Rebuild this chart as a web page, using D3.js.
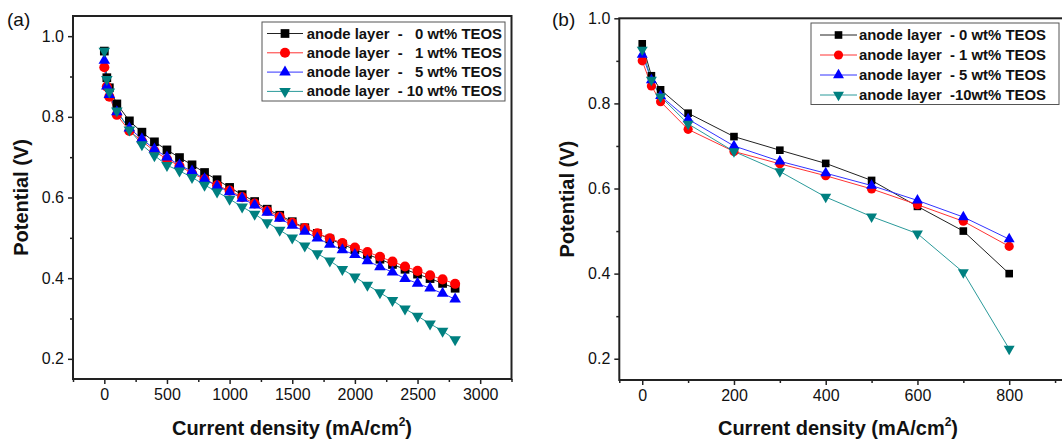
<!DOCTYPE html>
<html>
<head>
<meta charset="utf-8">
<script src="https://cdn.jsdelivr.net/npm/d3@7"></script>
<style>
  html, body { margin: 0; padding: 0; background: #fff; }
  svg { display: block; font-family: "Liberation Sans", Arial, sans-serif; }
  .leg text { font-weight: bold; font-size: 14.9px; white-space: pre; fill: #111; }
</style>
</head>
<body>
<svg id="chart" width="1062" height="446"></svg>
<script>
// ---- Data ----
// panel (a)
const currentA = [0, 20, 40, 100, 200, 300, 400, 500, 600, 700, 800, 900, 1000, 1100, 1200, 1300,
  1400, 1500, 1600, 1700, 1800, 1900, 2000, 2100, 2200, 2300, 2400, 2500, 2600, 2700, 2800];
const potA0 = [0.963, 0.897, 0.872, 0.832, 0.79, 0.762, 0.738, 0.718, 0.699, 0.681, 0.662, 0.644, 0.625, 0.607, 0.59, 0.571,
  0.556, 0.54, 0.525, 0.511, 0.497, 0.484, 0.471, 0.459, 0.447, 0.434, 0.422, 0.41, 0.399, 0.387, 0.375];
const potA1 = [0.923, 0.875, 0.85, 0.805, 0.765, 0.74, 0.715, 0.695, 0.678, 0.66, 0.645, 0.63, 0.617, 0.601, 0.585, 0.567,
  0.552, 0.537, 0.524, 0.511, 0.499, 0.487, 0.476, 0.465, 0.453, 0.441, 0.429, 0.418, 0.407, 0.397, 0.386];
const potA5 = [0.94, 0.876, 0.855, 0.812, 0.772, 0.745, 0.72, 0.70, 0.68, 0.665, 0.646, 0.628, 0.614, 0.598, 0.581, 0.563,
  0.548, 0.531, 0.516, 0.499, 0.484, 0.47, 0.458, 0.443, 0.428, 0.415, 0.399, 0.387, 0.375, 0.362, 0.348];
const potA10 = [0.963, 0.893, 0.862, 0.815, 0.768, 0.731, 0.704, 0.68, 0.666, 0.65, 0.631, 0.614, 0.596, 0.577, 0.559, 0.538,
  0.519, 0.5, 0.48, 0.461, 0.443, 0.422, 0.403, 0.383, 0.364, 0.345, 0.324, 0.306, 0.287, 0.269, 0.248];

// panel (b)
const currentB = [0, 20, 40, 100, 200, 300, 400, 500, 600, 700, 800];
const potB0 = [0.94, 0.865, 0.832, 0.777, 0.722, 0.69, 0.659, 0.619, 0.558, 0.50, 0.40];
const potB1 = [0.90, 0.841, 0.804, 0.739, 0.687, 0.658, 0.63, 0.599, 0.562, 0.523, 0.464];
const potB5 = [0.915, 0.855, 0.818, 0.763, 0.70, 0.664, 0.636, 0.607, 0.572, 0.533, 0.481];
const potB10 = [0.926, 0.855, 0.816, 0.752, 0.687, 0.64, 0.58, 0.534, 0.494, 0.403, 0.223];

const legendA = ["anode layer  -   0 wt% TEOS", "anode layer  -   1 wt% TEOS", "anode layer  -   5 wt% TEOS", "anode layer  - 10 wt% TEOS"];
const legendB = ["anode layer  - 0 wt% TEOS", "anode layer  - 1 wt% TEOS", "anode layer  - 5 wt% TEOS", "anode layer  -10wt% TEOS"];

const xTicksA = [0, 500, 1000, 1500, 2000, 2500, 3000];
const xMinorA = [-250, 250, 750, 1250, 1750, 2250, 2750, 3250];
const xTicksB = [0, 200, 400, 600, 800];
const xMinorB = [-50, 100, 300, 500, 700, 900];
const yTicks = [0.2, 0.4, 0.6, 0.8, 1.0];
const yMinor = [0.3, 0.5, 0.7, 0.9];

// ---- Styles ----
const colors = ["#000000", "#ff0000", "#0000ff", "#008080"];
const lineColors = ["#222222", "#ff3333", "#3333ff", "#2a9a9a"];
const symbols = [d3.symbolSquare, d3.symbolCircle, d3.symbolTriangle, d3.symbolTriangle];
const rotate = [0, 0, 0, 180];

const svg = d3.select("#chart");

// ---- Panel builder ----
function drawPanel(cfg) {
  const x = d3.scaleLinear().domain(cfg.xDomain).range(cfg.xRange);
  const y = d3.scaleLinear().domain(cfg.yDomain).range(cfg.yRange);
  const g = svg.append("g");

  const left = cfg.xRange[0], right = cfg.xRange[1];
  const top = cfg.yRange[1], bottom = cfg.yRange[0];

  // series: lines first, then markers on top
  cfg.series.forEach((vals, i) => {
    const pts = cfg.xs.map((v, j) => [v, vals[j]]);
    g.append("path")
      .datum(pts)
      .attr("fill", "none")
      .attr("stroke", lineColors[i])
      .attr("stroke-width", 1)
      .attr("d", d3.line().x(d => x(d[0])).y(d => y(d[1])));
  });
  cfg.series.forEach((vals, i) => {
    const pts = cfg.xs.map((v, j) => [v, vals[j]]);
    g.selectAll(null).data(pts).enter().append("path")
      .attr("d", d3.symbol().type(symbols[i]).size(cfg.sizes[i]))
      .attr("fill", colors[i])
      .attr("transform", d => `translate(${x(d[0])},${y(d[1])}) rotate(${rotate[i]})`);
  });

  // frame
  g.append("rect")
    .attr("x", left).attr("y", top)
    .attr("width", right - left).attr("height", bottom - top)
    .attr("fill", "none").attr("stroke", "#222").attr("stroke-width", 2);

  // axes
  const xAxis = g.append("g").attr("transform", `translate(0,${bottom})`)
    .call(d3.axisBottom(x).tickValues(cfg.xTicks).tickSize(5).tickPadding(5).tickFormat(d3.format("d")));
  const xMinor = g.append("g").attr("transform", `translate(0,${bottom})`)
    .call(d3.axisBottom(x).tickValues(cfg.xMinor).tickSize(3).tickFormat(""));
  const yAxis = g.append("g").attr("transform", `translate(${left},0)`)
    .call(d3.axisLeft(y).tickValues(yTicks).tickSize(5).tickPadding(4).tickFormat(d3.format(".1f")));
  const yMin = g.append("g").attr("transform", `translate(${left},0)`)
    .call(d3.axisLeft(y).tickValues(yMinor).tickSize(3).tickFormat(""));
  [xAxis, xMinor, yAxis, yMin].forEach(a => {
    a.select(".domain").remove();
    a.selectAll("line").attr("stroke", "#222").attr("stroke-width", 1.5);
    a.selectAll("text").attr("font-size", 16).attr("fill", "#111")
      .attr("font-family", "Liberation Sans, Arial, sans-serif");
  });

  // axis titles
  const xt = g.append("text")
    .attr("x", cfg.xTitleX).attr("y", 435)
    .attr("text-anchor", "middle")
    .attr("font-size", 20).attr("font-weight", "bold").attr("fill", "#111");
  xt.append("tspan").text("Current density (mA/cm");
  xt.append("tspan").text("2").attr("font-size", 12).attr("dy", -9);
  xt.append("tspan").text(")").attr("dy", 9);

  g.append("text")
    .attr("transform", `translate(${cfg.yTitleX},${(top + bottom) / 2}) rotate(-90)`)
    .attr("text-anchor", "middle")
    .attr("font-size", 20).attr("font-weight", "bold").attr("fill", "#111")
    .text("Potential (V)");

  g.append("text")
    .attr("x", cfg.tagX).attr("y", 26)
    .attr("font-size", 19).attr("fill", "#111")
    .text(cfg.tag);

  // legend
  const lg = g.append("g").attr("class", "leg");
  const L = cfg.legend;
  lg.append("rect")
    .attr("x", L.x0).attr("y", L.y0)
    .attr("width", L.x1 - L.x0).attr("height", L.y1 - L.y0)
    .attr("fill", "#fff").attr("stroke", "#555").attr("stroke-width", 1);
  L.labels.forEach((lab, i) => {
    const ry = L.y0 + L.firstRow + i * L.step;
    lg.append("line")
      .attr("x1", L.lineX0).attr("x2", L.lineX1)
      .attr("y1", ry).attr("y2", ry)
      .attr("stroke", lineColors[i]).attr("stroke-width", 1);
    lg.append("path")
      .attr("d", d3.symbol().type(symbols[i]).size(cfg.sizes[i]))
      .attr("fill", colors[i])
      .attr("transform", `translate(${(L.lineX0 + L.lineX1) / 2},${ry}) rotate(${rotate[i]})`);
    lg.append("text").attr("x", L.textEnd).attr("y", ry + 5)
      .attr("text-anchor", "end").text(lab);
  });
}

// ---- Panel (a) ----
drawPanel({
  tag: "(a)", tagX: 7,
  xs: currentA, series: [potA0, potA1, potA5, potA10],
  xDomain: [-250, 3250], xRange: [73, 511.5],
  yDomain: [0.15, 1.05], yRange: [379, 16],
  xTicks: xTicksA, xMinor: xMinorA,
  sizes: [76, 80, 58, 58],
  xTitleX: 292, yTitleX: 28,
  legend: { x0: 262, x1: 505, y0: 22, y1: 101, firstRow: 11.5, step: 19.3,
            lineX0: 267, lineX1: 303, labels: legendA, textEnd: 502 }
});

// ---- Panel (b) ----
drawPanel({
  tag: "(b)", tagX: 552,
  xs: currentB, series: [potB0, potB1, potB5, potB10],
  xDomain: [-50, 950], xRange: [619.3, 1078],
  yDomain: [0.15, 1.0], yRange: [380, 18.3],
  xTicks: xTicksB, xMinor: xMinorB,
  sizes: [58, 66, 52, 52],
  xTitleX: 838, yTitleX: 574,
  legend: { x0: 811, x1: 1059, y0: 23, y1: 104.5, firstRow: 12, step: 20,
            lineX0: 820, lineX1: 857, labels: legendB, textEnd: 1046 }
});
</script>
</body>
</html>
